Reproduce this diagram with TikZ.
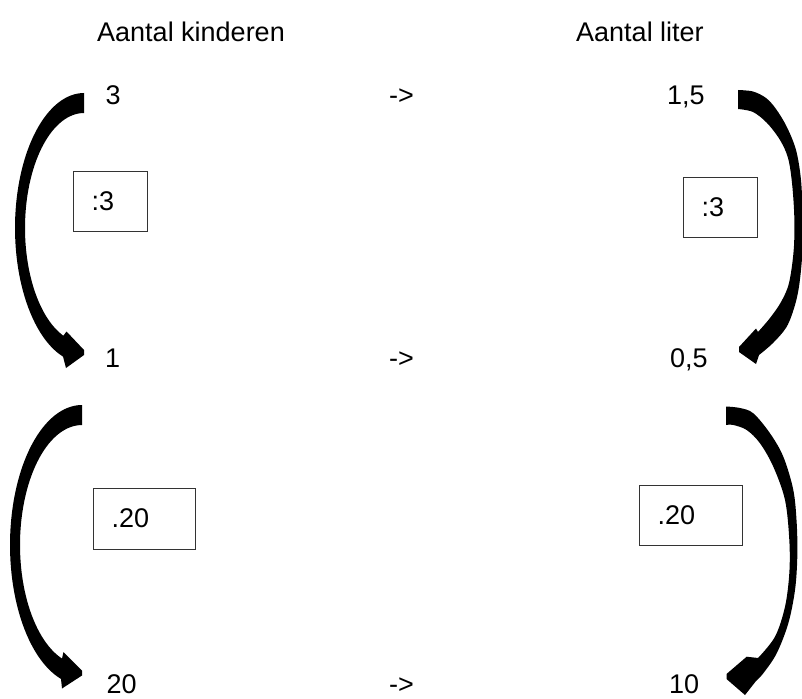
\documentclass[tikz,border=0pt]{standalone}
\usepackage{fontspec}
\setmainfont{Liberation Sans}
\usetikzlibrary{calc}
\begin{document}
\begin{tikzpicture}[x=1pt,y=-1pt,
  lbl/.style={anchor=base west, inner sep=0pt, font=\fontsize{27}{32}\selectfont},
  opbox/.style={draw=black!80, line width=1pt, anchor=north west, inner sep=0pt},
  bigarrow/.style={fill=black, draw=none}]
\useasboundingbox (0,0) rectangle (802,698);

% column headings
\node[lbl] (hk) at (97,42) {Aantal kinderen};
\node[lbl] (hl) at (576,42) {Aantal liter};

% rows
\node[lbl] (k3)  at (105.5,105) {3};
\node[lbl] (p1)  at (389,105) {->};
\node[lbl] (l15) at (667,105) {1,5};

\node[lbl] (k1)  at (105,367) {1};
\node[lbl] (p2)  at (389,367) {->};
\node[lbl] (l05) at (670,367) {0,5};

\node[lbl] (k20) at (106.5,693) {20};
\node[lbl] (p3)  at (389,693) {->};
\node[lbl] (l10) at (669,693) {10};

% operation boxes
\node[opbox, minimum width=74pt, minimum height=60pt] (bl1) at (73,171) {};
\node[lbl] (tl1) at ($(bl1.west)+(18.5,9)$) {:3};
\node[opbox, minimum width=74pt, minimum height=60pt] (br1) at (683,177) {};
\node[lbl] (tr1) at ($(br1.west)+(18.5,9)$) {:3};
\node[opbox, minimum width=102pt, minimum height=61pt] (bl2) at (93,488) {};
\node[lbl] (tl2) at ($(bl2.west)+(18.5,8.5)$) {.20};
\node[opbox, minimum width=103pt, minimum height=60pt] (br2) at (639,485) {};
\node[lbl] (tr2) at ($(br2.west)+(18.5,8.5)$) {.20};

% curved arrows, left column
\fill[bigarrow] plot[domain=270:107.7, samples=60, variable=\t] ({84+69*cos(\t)},{228+135*sin(\t)})
  -- (66,368) -- (84,355) -- (84,350) -- (66.5,331.5)
  -- plot[domain=110.5:270, samples=60, variable=\t] ({84+59*cos(\t)},{228+115*sin(\t)}) -- cycle;

\fill[bigarrow] plot[domain=270:106.96, samples=60, variable=\t] ({82+72*cos(\t)},{545+140*sin(\t)})
  -- (62,688.5) -- (82,675.5) -- (82,670.5) -- (63.5,652)
  -- plot[domain=108.8:270, samples=60, variable=\t] ({82+62*cos(\t)},{545+120*sin(\t)}) -- cycle;

% curved arrows, right column
\fill[bigarrow] plot[smooth, tension=0.55] coordinates {(738,90) (753,91.5) (766,98) (776,109) (786.7,126.7) (796,150) (801,180) (802.5,215) (802.5,250) (799.5,283) (795,305) (786.7,326.7) (773,343) (759,355)}
  -- (756,364) -- (739,352) -- (739,347) -- (756,328.5)
  -- plot[smooth, tension=0.55] coordinates {(758,332) (770,318) (781,302) (789,283) (793.7,250) (794.3,217) (792,183) (788,158) (780,140) (767,123) (753,112) (738,109)} -- cycle;

\fill[bigarrow] plot[smooth, tension=0.55] coordinates {(726,406.5) (740,408) (753.3,413.3) (770,433.3) (783.3,456.7) (793.3,490) (796.7,523.3) (797.3,556.7) (795,590) (788.3,623.3) (776.7,653.3) (763.3,673.3) (756,681)}
  -- (745,695) -- (726.5,679) -- (726.5,674) -- (746.7,656.7)
  -- plot[smooth, tension=0.55] coordinates {(758,658) (775,636.7) (785,606.7) (789.3,573.3) (789.3,540) (785,500) (773.3,466.7) (760,443.3) (746.7,430) (733.3,425) (726,425)} -- cycle;
\end{tikzpicture}
\end{document}
